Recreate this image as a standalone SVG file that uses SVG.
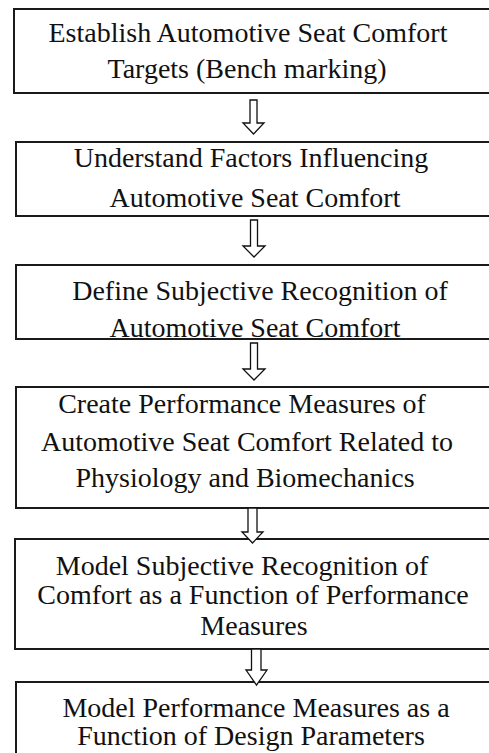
<svg xmlns="http://www.w3.org/2000/svg" width="489" height="753" viewBox="0 0 489 753">
<style>
.box{fill:#fff;stroke:#1a1a1a;stroke-width:2}
.t{font-family:"Liberation Serif","Times New Roman",serif;font-size:28px;fill:#111;text-anchor:middle}
.arr{fill:#fff;stroke:#111;stroke-width:1.3;stroke-linejoin:miter}
</style>
<rect width="489" height="753" fill="#fff"/>
<g id="n1"><rect class="box" x="14" y="9" width="490" height="84"/>
<text class="t" x="248" y="42">Establish Automotive Seat Comfort</text>
<text class="t" x="247" y="78">Targets (Bench marking)</text></g>
<g id="n2"><rect class="box" x="16" y="142" width="490" height="74"/>
<text class="t" x="251" y="167">Understand Factors Influencing</text>
<text class="t" x="255" y="207">Automotive Seat Comfort</text></g>
<g id="n3"><rect class="box" x="16" y="265" width="490" height="74"/>
<text class="t" x="260" y="300">Define Subjective Recognition of</text>
<text class="t" x="255" y="337">Automotive Seat Comfort</text></g>
<g id="n4"><rect class="box" x="16" y="387" width="490" height="121"/>
<text class="t" x="242" y="413">Create Performance Measures of</text>
<text class="t" x="247" y="451">Automotive Seat Comfort Related to</text>
<text class="t" x="245" y="487">Physiology and Biomechanics</text></g>
<g id="n5"><rect class="box" x="15" y="539" width="490" height="110"/>
<text class="t" x="242" y="575">Model Subjective Recognition of</text>
<text class="t" x="253" y="604">Comfort as a Function of Performance</text>
<text class="t" x="254" y="635">Measures</text></g>
<g id="n6"><rect class="box" x="16" y="682" width="490" height="90"/>
<text class="t" x="256" y="717">Model Performance Measures as a</text>
<text class="t" x="251" y="745">Function of Design Parameters</text></g>
<g id="connectors">
<polygon class="arr" points="250,100 257,100 257,123 264,123 253.5,134 243,123 250,123 250,100"/>
<polygon class="arr" points="250.5,220 257.5,220 257.5,246 265,246 254,257 243,246 250.5,246 250.5,220"/>
<polygon class="arr" points="250.5,343 257.5,343 257.5,369 265,369 254,380 243,369 250.5,369 250.5,343"/>
<polygon class="arr" points="248,508 257,508 257,532 263,532 252.5,543 242,532 248,532 248,508"/>
<polygon class="arr" points="251.5,649 261,649 261,670 267,670 256.5,685 246,670 251.5,670 251.5,649"/>
</g>
</svg>
